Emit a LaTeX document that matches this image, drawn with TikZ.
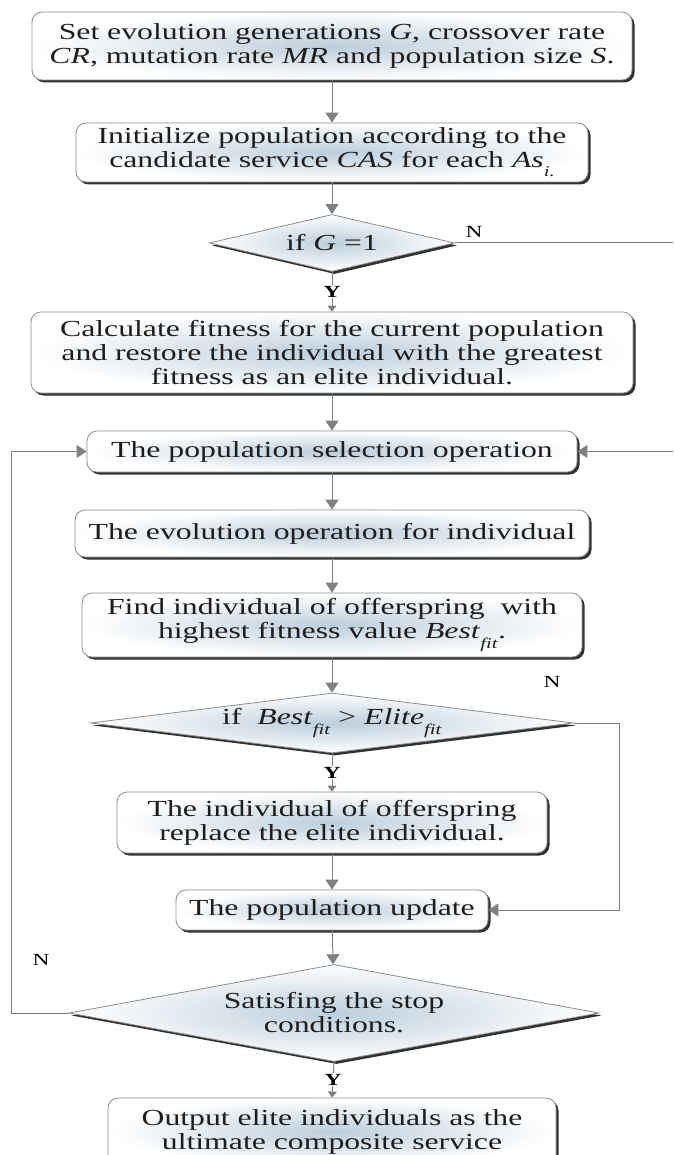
\documentclass[tikz,border=0pt]{standalone}
\usepackage{fontspec}
\setmainfont{Liberation Serif}[FakeStretch=1.38]
\usetikzlibrary{shapes.geometric,shadows,arrows.meta}
\definecolor{lineg}{HTML}{808080}
\definecolor{boxb}{HTML}{8C8C8C}
\definecolor{shadein}{HTML}{BCCEDC}
\definecolor{txt}{HTML}{1E1E1E}
\newcommand\subsc[1]{\raisebox{-0.4em}{\fontsize{15}{15}\selectfont\textit{#1}}}
\begin{document}
\begin{tikzpicture}[x=1pt,y=-1pt,
  font=\fontsize{23}{24}\selectfont, text=txt,
  shad/.style={drop shadow={shadow xshift=2.5pt,shadow yshift=-2.5pt,fill=black!85,opacity=0.95}},
  stepbox/.style={shad, draw=boxb, line width=0.8pt, rounded corners=10pt,
    inner color=shadein, outer color=white, align=center, inner sep=2pt},
  dia/.style={shad, diamond, draw=boxb, line width=0.8pt, inner color=shadein,
    outer color=white, inner sep=0pt, aspect=1},
  dtext/.style={align=center, text=txt},
  conn/.style={draw=lineg, line width=1pt},
  arr/.style={conn, -{Triangle[width=13pt,length=10pt]}},
  sarr/.style={conn, -{Triangle[width=9pt,length=6pt]}},
  lab/.style={font=\fontsize{17}{17}\selectfont, text=black},
  ylab/.style={lab, font=\fontsize{17}{17}\selectfont\bfseries, fill=white, inner sep=1pt}
]
\useasboundingbox (0,0) rectangle (673,1155);
\clip (0,0) rectangle (673,1155);

% boxes
\node[stepbox, minimum width=600pt, minimum height=68pt] (b1) at (332,46)
  {Set evolution generations \textit{G}, crossover rate\\\textit{CR}, mutation rate \textit{MR} and population size \textit{S}.};
\node[stepbox, minimum width=512pt, minimum height=59pt] (b2) at (332,152.5)
  {Initialize population according to the\\candidate service \textit{CAS} for each \textit{As}\subsc{i.}};
\node[dia, minimum width=245pt, minimum height=57pt,
  label={[dtext]center:{if \textit{G} =1}}] (d1) at (332,243) {};
\node[stepbox, minimum width=602pt, minimum height=81pt] (b3) at (332,352.5)
  {Calculate fitness for the current population\\and restore the individual with the greatest\\fitness as an elite individual.};
\node[stepbox, minimum width=490pt, minimum height=41pt] (b4) at (332,451.5)
  {The population selection operation};
\node[stepbox, minimum width=514pt, minimum height=47pt] (b5) at (332,533.5)
  {The evolution operation for individual};
\node[stepbox, minimum width=500pt, minimum height=64pt] (b6) at (332,625)
  {Find individual of offerspring\ \ with\\highest fitness value \textit{Best}\subsc{fit}.};
\node[dia, minimum width=483pt, minimum height=60pt,
  label={[dtext]center:{if\ \ \textit{Best}\subsc{fit} > \textit{Elite}\subsc{fit}}}] (d2) at (332,723) {};
\node[stepbox, minimum width=430pt, minimum height=61pt] (b7) at (332,822.5)
  {The individual of offerspring\\replace the elite individual.};
\node[stepbox, minimum width=312pt, minimum height=40pt] (b8) at (332,910)
  {The population update};
\node[dia, minimum width=530pt, minimum height=97pt,
  label={[dtext]center:{Satisfing the stop\\conditions.}}] (d3) at (334,1013) {};
\node[stepbox, minimum width=448pt, minimum height=68pt] (b9) at (332,1132)
  {Output elite individuals as the\\ultimate composite service};

% free ends
\coordinate (r1) at (673,243);
\coordinate (r2) at (673,451.5);
\coordinate (r3) at (619,723);
\coordinate (l1) at (11,1013);

% connectors
\draw[arr] (b1) -- (b2);
\draw[arr] (b2) -- (d1);
\draw[conn] (d1.east) -- (r1);
\node[lab] (n1) at (474,232) {N};
\draw[sarr] (d1.south) -- node[ylab] (y1) {Y} (b3.north);
\draw[arr] (b3) -- (b4);
\draw[arr] (r2) -- (b4.east);
\draw[arr] (b4) -- (b5);
\draw[arr] (b5) -- (b6);
\draw[arr] (b6) -- (d2);
\node[lab] (n2) at (552,682) {N};
\draw[arr] (d2.east) -- (r3) |- (b8.east);
\draw[sarr] (d2.south) -- node[ylab] (y2) {Y} (b7.north);
\draw[arr] (b7) -- (b8);
\draw[arr] (b8) -- (d3);
\node[lab] (n3) at (41,960) {N};
\draw[arr] (d3.west) -- (l1) |- (b4.west);
\draw[sarr] (d3.south) -- node[ylab] (y3) {Y} (b9.north);
\end{tikzpicture}
\end{document}
